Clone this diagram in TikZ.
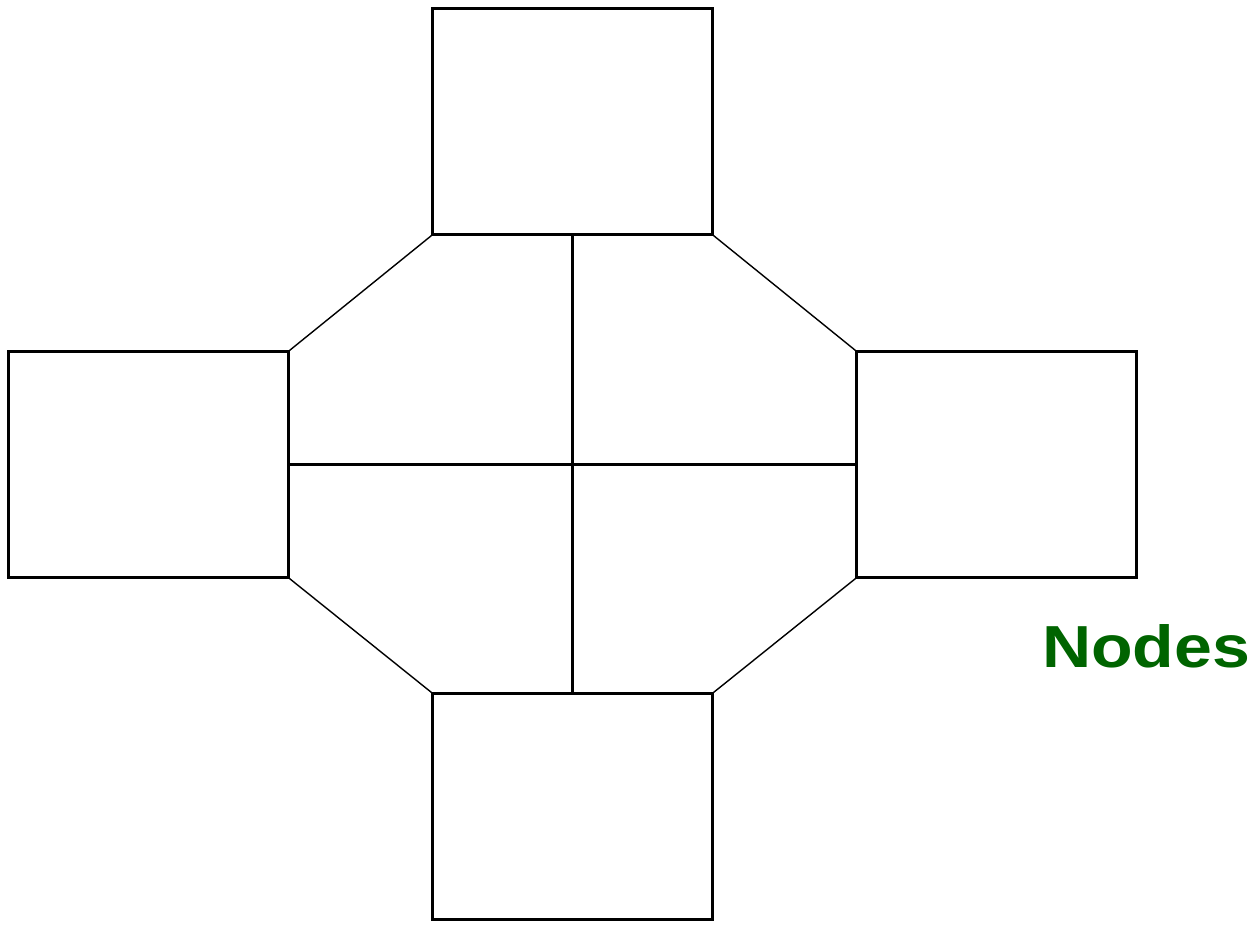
\documentclass[tikz,border=0pt]{standalone}
\usepackage{fontspec}
\usepackage{graphicx}
\setsansfont{Liberation Sans}
\usetikzlibrary{positioning}
\definecolor{nodegreen}{RGB}{0,100,0}

\begin{document}
\begin{tikzpicture}[x=0.02cm, y=-0.02cm,
             box/.style={rectangle, draw, line width=1.3pt, minimum width=5.6cm,
                         minimum height=4.52cm, inner sep=0pt},
             link/.style={line width=1.3pt},
             slant/.style={line width=0.8pt}]
\useasboundingbox (0,0) rectangle (1257,924);
%% the four boxes round the centre
\node[box] (top)    at (572.5,121.5) {};
\node[box] (left)   at (148.5,464.5) {};
\node[box] (right)  at (996.5,464.5) {};
\node[box] (bottom) at (572.5,806.5) {};
%% cross through the middle
\draw[link] (top.south) -- (bottom.north);
\draw[link] (left.east) -- (right.west);
%% slanted sides of the octagon
\draw[slant] (top.south west) -- (left.north east);
\draw[slant] (top.south east) -- (right.north west);
\draw[slant] (left.south east) -- (bottom.north west);
\draw[slant] (right.south west) -- (bottom.north east);
%% label
\node[text=nodegreen, font=\sffamily\bfseries, inner sep=0pt] (label) at (1146,646)
  {\resizebox{4.16cm}{0.86cm}{Nodes}};
\end{tikzpicture}
\end{document}
